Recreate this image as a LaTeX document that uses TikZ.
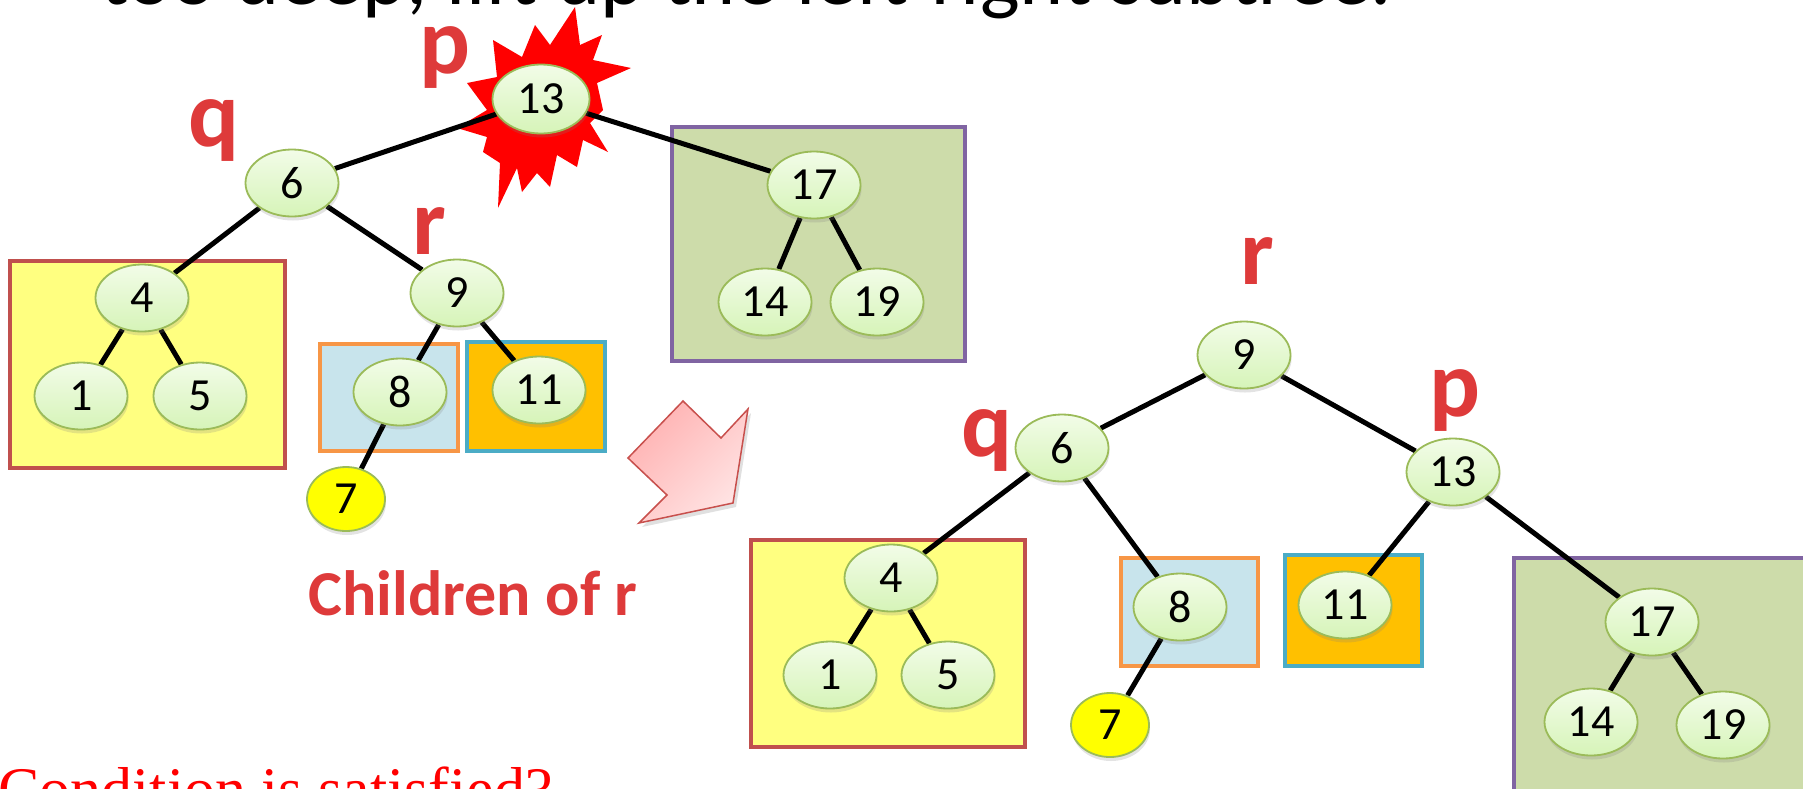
\documentclass[tikz,border=0pt]{standalone}
\usepackage{fontspec}
\setmainfont{Carlito}
\newfontfamily\condfont{Liberation Serif}
\usetikzlibrary{shapes.geometric,shadows}

\definecolor{nodeborder}{RGB}{155,187,89}
\definecolor{nodetop}{RGB}{242,252,232}
\definecolor{nodebot}{RGB}{214,244,184}
\definecolor{lblred}{RGB}{222,58,58}
\definecolor{ybox}{RGB}{255,255,128}
\definecolor{yboxb}{RGB}{192,80,77}
\definecolor{bbox}{RGB}{200,228,236}
\definecolor{bboxb}{RGB}{247,150,70}
\definecolor{obox}{RGB}{255,192,0}
\definecolor{oboxb}{RGB}{75,172,198}
\definecolor{gbox}{RGB}{205,220,170}
\definecolor{gboxb}{RGB}{128,100,162}
\definecolor{arrlo}{RGB}{255,178,178}
\definecolor{arrhi}{RGB}{255,228,228}
\definecolor{arrb}{RGB}{200,80,77}

\pgfdeclarelayer{back}
\pgfdeclarelayer{edges}
\pgfsetlayers{back,edges,main}

\tikzset{
  bnode/.style={ellipse, draw=nodeborder, line width=1.8pt,
    top color=nodetop, bottom color=nodebot,
    minimum width=93pt, minimum height=67pt, inner sep=0pt,
    font=\fontsize{46}{46}\selectfont,
    drop shadow={shadow xshift=1pt, shadow yshift=-4pt, opacity=0.22}},
  ynode/.style={bnode, top color=yellow, bottom color=yellow,
    minimum width=78pt, minimum height=64pt},
  tedge/.style={line width=5pt, black},
  boxline/.style={line width=4.5pt},
  ylwbox/.style={boxline, draw=yboxb, fill=ybox},
  bluebox/.style={boxline, draw=bboxb, fill=bbox},
  orgbox/.style={boxline, draw=oboxb, fill=obox},
  grnbox/.style={boxline, draw=gboxb, fill=gbox},
  ptr/.style={anchor=base, text=lblred, font=\bfseries\fontsize{95}{95}\selectfont, inner sep=0pt},
}

\begin{document}
\begin{tikzpicture}[x=1pt, y=-1pt]
\useasboundingbox (0,0) rectangle (1803,788);

% ---------- subtree boxes, burst and arrow ----------
\begin{pgfonlayer}{back}
  % burst behind the old root
  \fill[red] (575,7) -- (580,45) -- (602,35) -- (593,60) -- (631,68) -- (597,83)
    -- (603,110) -- (590,123) -- (608,152) -- (583,140) -- (577,167) -- (557,155)
    -- (550,187) -- (537,173) -- (522,192) -- (517,168) -- (498,208) -- (500,163)
    -- (483,152) -- (487,137) -- (457,128) -- (487,110) -- (467,83) -- (497,77)
    -- (493,40) -- (522,57) -- (535,25) -- (550,45) -- cycle;

  % before the rotation
  \draw[ylwbox]  (10,261) rectangle (285,468);
  \draw[bluebox] (320,344) rectangle (458,451);
  \draw[orgbox]  (467,342) rectangle (605,451);
  \draw[grnbox]  (672,127) rectangle (965,361);

  % after the rotation
  \draw[ylwbox]  (751,540) rectangle (1025,747);
  \draw[bluebox] (1121,558) rectangle (1258,666);
  \draw[orgbox]  (1285,555) rectangle (1422,666);
  \draw[grnbox]  (1514,558) rectangle (1815,800);

  % block arrow
  \fill[black, opacity=0.12] (686,405) -- (724,442) -- (751,413) -- (736,507)
    -- (642,527) -- (670,499) -- (631,462) -- cycle;
  \draw[arrb, line width=1.5pt, shading=axis, left color=arrlo, right color=arrhi, shading angle=45]
    (683,401) -- (721,438) -- (748,409) -- (733,503) -- (639,523) -- (667,495) -- (628,458) -- cycle;
\end{pgfonlayer}

% ---------- tree before the rotation ----------
\node[bnode, minimum width=97pt, minimum height=69pt] (t13) at (541,99) {13};
\node[bnode] (t6)  at (292,183) {6};
\node[bnode] (t17) at (814,185) {17};
\node[bnode] (t4)  at (142,298) {4};
\node[bnode] (t9)  at (457,293) {9};
\node[bnode] (t1)  at (81,396)  {1};
\node[bnode] (t5)  at (200,396) {5};
\node[bnode] (t8)  at (400,392) {8};
\node[bnode] (t11) at (539,390) {11};
\node[ynode] (t7)  at (346,499) {7};
\node[bnode] (t14) at (765,302) {14};
\node[bnode] (t19) at (877,302) {19};

% ---------- tree after the rotation ----------
\node[bnode] (b9)  at (1244,355) {9};
\node[bnode] (b6)  at (1062,448) {6};
\node[bnode] (b13) at (1453,472) {13};
\node[bnode] (b4)  at (891,578)  {4};
\node[bnode] (b1)  at (830,675)  {1};
\node[bnode] (b5)  at (948,675)  {5};
\node[bnode] (b8)  at (1180,607) {8};
\node[ynode] (b7)  at (1110,725) {7};
\node[bnode] (b11) at (1345,605) {11};
\node[bnode] (b17) at (1652,622) {17};
\node[bnode] (b14) at (1591,722) {14};
\node[bnode] (b19) at (1723,725) {19};

\begin{pgfonlayer}{edges}
  \draw[tedge] (t13) -- (t6);
  \draw[tedge] (t13) -- (t17);
  \draw[tedge] (t6) -- (t4);
  \draw[tedge] (t6) -- (t9);
  \draw[tedge] (t4) -- (t1);
  \draw[tedge] (t4) -- (t5);
  \draw[tedge] (t9) -- (t8);
  \draw[tedge] (t9) -- (t11);
  \draw[tedge] (t8) -- (t7);
  \draw[tedge] (t17) -- (t14);
  \draw[tedge] (t17) -- (t19);

  \draw[tedge] (b9) -- (b6);
  \draw[tedge] (b9) -- (b13);
  \draw[tedge] (b6) -- (b4);
  \draw[tedge] (b6) -- (b8);
  \draw[tedge] (b13) -- (b11);
  \draw[tedge] (b13) -- (b17);
  \draw[tedge] (b4) -- (b1);
  \draw[tedge] (b4) -- (b5);
  \draw[tedge] (b8) -- (b7);
  \draw[tedge] (b17) -- (b14);
  \draw[tedge] (b17) -- (b19);
\end{pgfonlayer}

% ---------- pointer labels ----------
\node[ptr] (lp1) at (445,73)   {p};
\node[ptr] (lq1) at (214,146)  {q};
\node[ptr] (lr1) at (429,254)  {r};
\node[ptr] (lr2) at (1257,284) {r};
\node[ptr] (lp2) at (1455,416) {p};
\node[ptr] (lq2) at (987,456)  {q};

\node[anchor=base, text=lblred, font=\bfseries\fontsize{64}{64}\selectfont, inner sep=0pt]
  (kids) at (473,615) {Children of r};

% ---------- slide text ----------
\node[anchor=base west, inner sep=0pt, font=\fontsize{84}{84}\selectfont]
  (title) at (100,4) {too deep, lift up the left-right subtree.};
\node[anchor=base west, inner sep=0pt, text=red, font=\condfont\fontsize{62}{62}\selectfont]
  (cond) at (-2,810) {Condition is satisfied?};
\end{tikzpicture}
\end{document}
